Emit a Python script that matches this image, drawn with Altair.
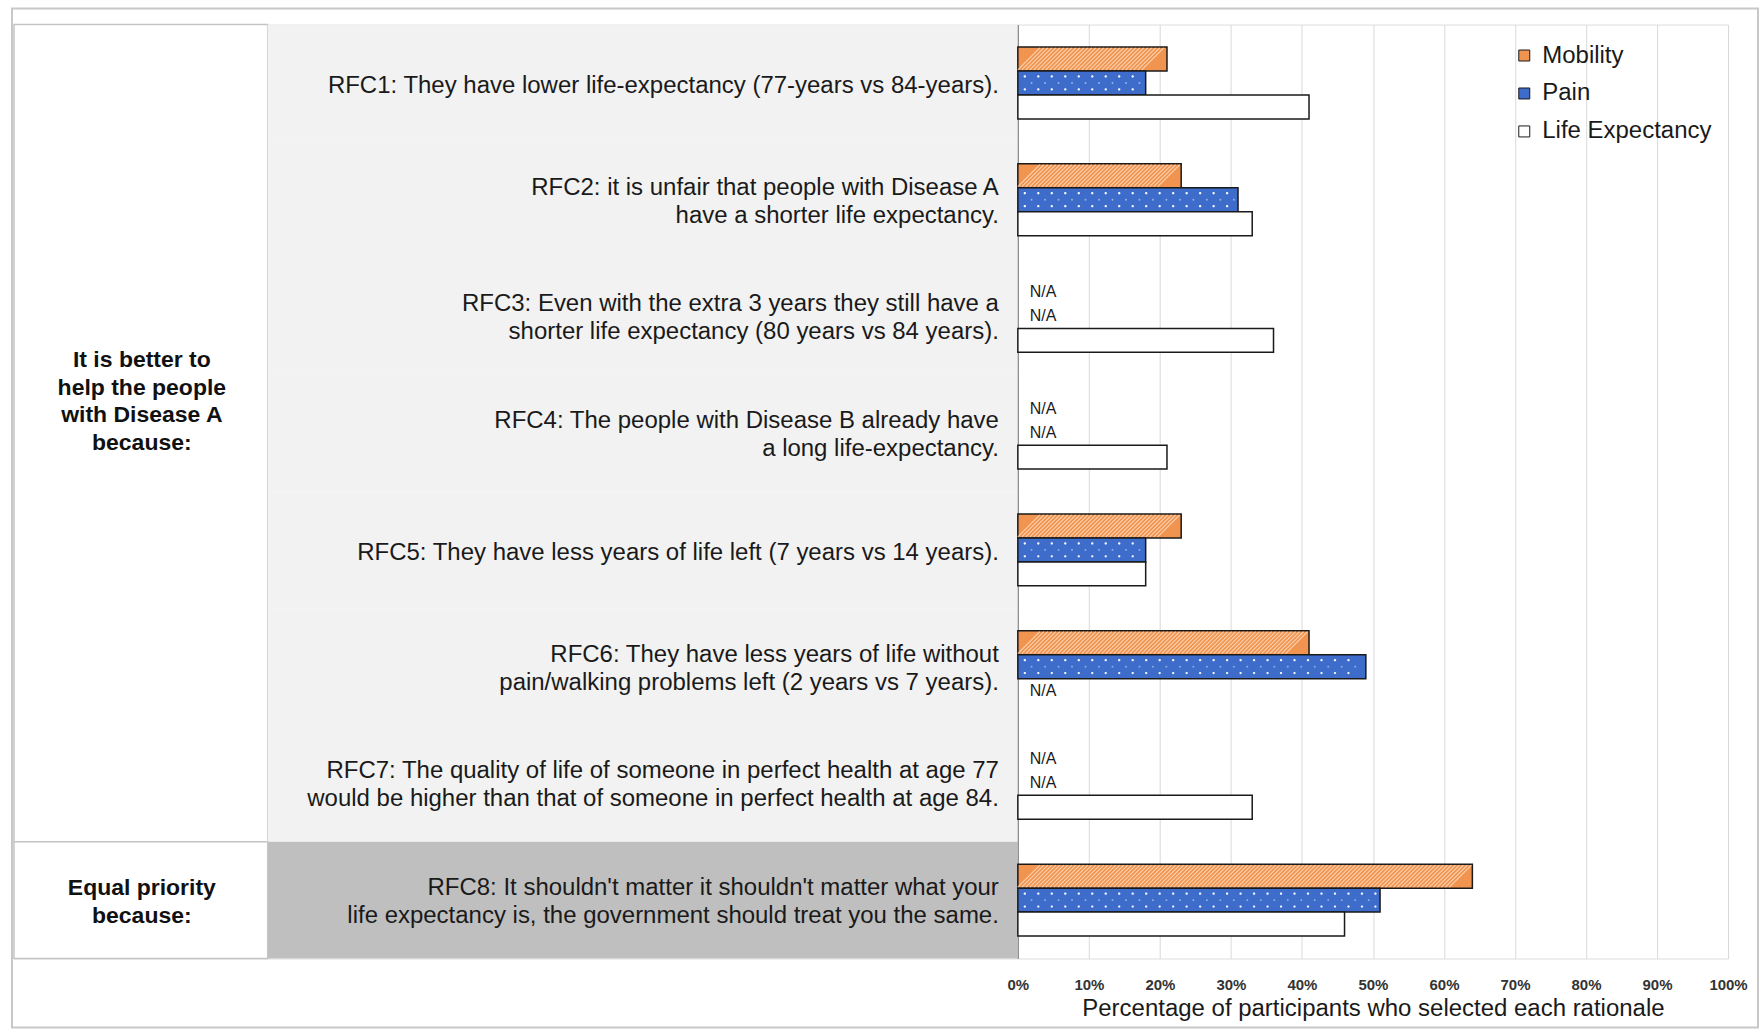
import altair as alt
import numpy as np
import pandas as pd

FONT = "Liberation Sans"

# ---- data -------------------------------------------------------------
rfc_ids = ["RFC1", "RFC2", "RFC3", "RFC4", "RFC5", "RFC6", "RFC7", "RFC8"]
rfc_text = [
    "RFC1: They have lower life-expectancy (77-years vs 84-years).",
    "RFC2: it is unfair that people with Disease A\nhave a shorter life expectancy.",
    "RFC3: Even with the extra 3 years they still have a\nshorter life expectancy (80 years  vs 84 years).",
    "RFC4: The people with Disease B already have\na long life-expectancy.",
    "RFC5: They have less years of life left (7 years vs 14 years).",
    "RFC6: They have less years of life without\npain/walking problems left (2 years vs 7 years).",
    "RFC7: The quality of life of someone in perfect health at age 77\nwould be higher than that of someone in perfect health at age 84.",
    "RFC8: It shouldn't matter it shouldn't matter what your\nlife expectancy is, the government should treat you the same.",
]
rfc_group = ["better"] * 7 + ["equal"]
group_ids = ["better", "equal"]
group_labels = ["It is better to\nhelp the people\nwith Disease A\nbecause:", "Equal priority\nbecause:"]

series = ["Mobility", "Pain", "Life Expectancy"]
mobility = [0.21, 0.23, None, None, 0.23, 0.41, None, 0.64]
pain = [0.18, 0.31, None, None, 0.18, 0.49, None, 0.51]
life_expectancy = [0.41, 0.33, 0.36, 0.21, 0.18, None, 0.33, 0.46]

tick_values = [0.0, 0.1, 0.2, 0.3, 0.4, 0.5, 0.6, 0.7, 0.8, 0.9, 1.0]
x_title = "Percentage of participants who selected each rationale"

series_colors = ["#F0944F", "#3D6CCB", "#FFFFFF"]
panel_colors = ["#F2F2F2", "#BFBFBF"]

# ---- layout sizes -----------------------------------------------------
LEFT_W = 254
MID_W = 751
PLOT_W = 711
H = 935
LINE_H = 28

# ---- tables -----------------------------------------------------------
rows = []
for rid, m, p, le in zip(rfc_ids, mobility, pain, life_expectancy):
    for s, v in zip(series, (m, p, le)):
        rows.append({"rfc": rid, "series": s, "value": v})
df = pd.DataFrame(rows)
bars_df = df.dropna().reset_index(drop=True)
na_df = df[df["value"].isna()].assign(value=0.0, label="N/A")


def along(length, start_px, step_px, end_px):
    """Positions (in data units) spread along a bar for its fill texture."""
    return np.arange(start_px, length * PLOT_W - end_px + 1e-6, step_px) / PLOT_W


# diagonal hatching for Mobility bars
hatch_rows = []
for rid, m in zip(rfc_ids, mobility):
    if m is not None:
        for xv in along(m, 11, 4.0, 11):
            hatch_rows.append({"rfc": rid, "series": "Mobility", "value": xv})
hatch_df = pd.DataFrame(hatch_rows)

# dotted texture for Pain bars (outer rows and a staggered middle row)
dot_rows = []
for rid, p in zip(rfc_ids, pain):
    if p is not None:
        for xv in along(p, 7, 13.5, 4):
            dot_rows.append({"rfc": rid, "series": "Pain", "value": xv, "row": "outer"})
        for xv in along(p, 13.75, 13.5, 4):
            dot_rows.append({"rfc": rid, "series": "Pain", "value": xv, "row": "middle"})
dot_df = pd.DataFrame(dot_rows)

# symbol paths (unit box -1..1) for the textures
HATCH_PATH = "M-1,1L1,-1"
PAIR_DOT_PATH = (
    "M-0.1,-0.54a0.1,0.1 0 1,0 0.2,0a0.1,0.1 0 1,0 -0.2,0Z"
    "M-0.1,0.54a0.1,0.1 0 1,0 0.2,0a0.1,0.1 0 1,0 -0.2,0Z"
)
MID_DOT_PATH = "M-0.08,0a0.08,0.08 0 1,0 0.16,0a0.08,0.08 0 1,0 -0.16,0Z"

# group spans (in row units) for the left column
grp_rows = []
start = 0
for g, lbl in zip(group_ids, group_labels):
    n = rfc_group.count(g)
    grp_rows.append({"group": g, "label": lbl, "y0": start, "y1": start + n,
                     "mid": start + n / 2})
    start += n
grp_df = pd.DataFrame(grp_rows)
panel_df = pd.DataFrame({"rfc": rfc_ids, "text": rfc_text, "group": rfc_group})

# ---- left column: group captions --------------------------------------
row_scale = alt.Scale(domain=[0, len(rfc_ids)], reverse=True, nice=False, zero=False)

frame = alt.Chart(pd.DataFrame({"k": [0]})).mark_rect(
    fillOpacity=0, stroke="#C8C8C8", strokeWidth=2
).encode(x=alt.value(-2), x2=alt.value(1746), y=alt.value(-16), y2=alt.value(1004))

cells = alt.Chart(grp_df).mark_rect(fill="white", stroke="#C4C4C4", strokeWidth=1.5).encode(
    x=alt.value(0), x2=alt.value(LEFT_W),
    y=alt.Y("y0:Q", scale=row_scale, axis=None), y2="y1:Q",
)
caption_base = alt.Chart(grp_df).encode(
    x=alt.value(LEFT_W / 2 + 1),
    y=alt.Y("mid:Q", scale=row_scale, axis=None),
    text="label:N",
)
caption_better = caption_base.transform_filter("datum.group == 'better'").mark_text(
    font=FONT, fontSize=23, fontWeight="bold", lineBreak="\n", lineHeight=27.5,
    align="center", baseline="middle", color="#111111", dy=-73,
)
caption_equal = caption_base.transform_filter("datum.group == 'equal'").mark_text(
    font=FONT, fontSize=23, fontWeight="bold", lineBreak="\n", lineHeight=27.5,
    align="center", baseline="middle", color="#111111", dy=-12,
)
left = alt.layer(frame, cells, caption_better, caption_equal).properties(width=LEFT_W, height=H)

# ---- middle column: rationale texts on grey panels --------------------
panel_y = alt.Y("rfc:N", scale=alt.Scale(domain=rfc_ids, paddingInner=0, paddingOuter=0), axis=None)
panels = alt.Chart(panel_df).mark_rect().encode(
    y=panel_y, x=alt.value(0), x2=alt.value(MID_W),
    fill=alt.Fill("group:N", scale=alt.Scale(domain=group_ids, range=panel_colors), legend=None),
)
text_style = dict(font=FONT, fontSize=24, lineBreak="\n", lineHeight=LINE_H, align="right",
                  baseline="middle", color="#1A1A1A")
texts_one = alt.Chart(panel_df).transform_filter(
    "indexof(datum.text, '\\n') < 0"
).mark_text(dy=3, **text_style).encode(y=panel_y, x=alt.value(MID_W - 19), text="text:N")
texts_two = alt.Chart(panel_df).transform_filter(
    "indexof(datum.text, '\\n') >= 0"
).mark_text(dy=-12, **text_style).encode(y=panel_y, x=alt.value(MID_W - 19), text="text:N")
middle = alt.layer(panels, texts_one, texts_two).properties(width=MID_W, height=H)

# ---- right column: grouped horizontal bars ----------------------------
x_enc = alt.X(
    "value:Q",
    scale=alt.Scale(domain=[0, 1], nice=False),
    axis=alt.Axis(
        values=tick_values, format=".0%", grid=True, gridColor="#D9D9D9", gridWidth=1,
        domain=False, ticks=False, labelFlush=False, labelFont=FONT, labelFontSize=15,
        labelFontWeight="bold", labelColor="#333333", labelPadding=19, title=x_title,
        titleFont=FONT, titleFontSize=24, titleFontWeight="normal", titleColor="#1A1A1A",
        titlePadding=4,
    ),
)
y_enc = alt.Y(
    "rfc:N",
    scale=alt.Scale(domain=rfc_ids, paddingInner=0, paddingOuter=0),
    axis=alt.Axis(labels=False, ticks=False, grid=False, domain=True,
                  domainColor="#8C8C8C", domainWidth=1.2, title=None),
)
yoff_enc = alt.YOffset(
    "series:N", scale=alt.Scale(domain=series, paddingInner=0, paddingOuter=0.935)
)

bars = alt.Chart(bars_df).mark_bar(stroke="#1A1A1A", strokeWidth=1.5).encode(
    x=x_enc, y=y_enc, yOffset=yoff_enc,
    color=alt.Color(
        "series:N",
        scale=alt.Scale(domain=series, range=series_colors),
        legend=alt.Legend(
            title=None, orient="none", legendX=1500, legendY=19, symbolType="square",
            symbolSize=121, symbolStrokeColor="#1A1A1A", symbolStrokeWidth=1,
            symbolOpacity=1, labelFont=FONT, labelFontSize=24, labelColor="#1A1A1A",
            labelOffset=6, labelLimit=400, rowPadding=14,
        ),
    ),
)
hatch = alt.Chart(hatch_df).mark_point(
    shape=HATCH_PATH, size=484, color="#FFE4CC", strokeWidth=1.1, opacity=0.8
).encode(x=x_enc, y=y_enc, yOffset=yoff_enc)

dots_outer = alt.Chart(dot_df).transform_filter("datum.row == 'outer'").mark_point(
    shape=PAIR_DOT_PATH, size=576, filled=True, color="white", opacity=0.95, strokeWidth=0
).encode(x=x_enc, y=y_enc, yOffset=yoff_enc)
dots_middle = alt.Chart(dot_df).transform_filter("datum.row == 'middle'").mark_point(
    shape=MID_DOT_PATH, size=576, filled=True, color="white", opacity=0.45, strokeWidth=0
).encode(x=x_enc, y=y_enc, yOffset=yoff_enc)

na_text = alt.Chart(na_df).mark_text(
    font=FONT, fontSize=16, align="left", baseline="middle", dx=12, color="#1A1A1A"
).encode(x=x_enc, y=y_enc, yOffset=yoff_enc, text="label:N")

right = alt.layer(bars, hatch, dots_outer, dots_middle, na_text).properties(
    width=PLOT_W, height=H
)

chart = (
    alt.hconcat(left, middle, right, spacing=0, bounds="flush")
    .properties(padding={"left": 10, "top": 6, "right": 2, "bottom": 2}, background="white")
    .configure_view(strokeWidth=0)
    .configure(font=FONT)
)

chart.save("out.html", embed_options={"renderer": "svg", "actions": False})
